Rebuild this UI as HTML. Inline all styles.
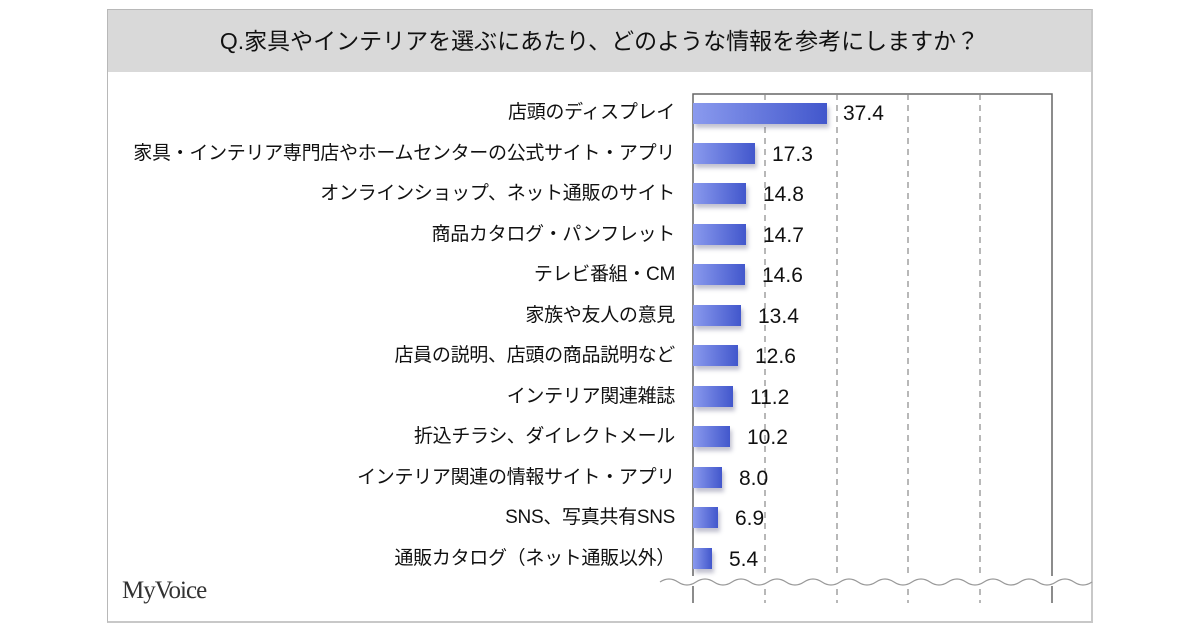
<!DOCTYPE html>
<html><head><meta charset="utf-8"><style>
body{margin:0;width:1200px;height:630px;background:#fff;position:relative;overflow:hidden;font-family:"Liberation Sans","Noto Sans CJK JP",sans-serif;}
.box{position:absolute;left:107px;top:9px;width:983px;height:611px;border:1px solid #b8b8b8;border-right:2px solid #c8c8c8;border-bottom:2px solid #c8c8c8;}
.title{position:absolute;left:108px;top:10px;width:983px;height:62px;background:#d9d9d9;font-size:23px;line-height:62px;text-align:center;color:#111;}
.lab{position:absolute;right:525px;font-size:19px;color:#111;white-space:nowrap;line-height:24px;letter-spacing:-0.3px;}
.val{position:absolute;font-size:21px;color:#111;line-height:24px;}
.bar{position:absolute;left:693px;height:21px;background:linear-gradient(90deg,#8a9aee,#4257cc);box-shadow:2px 4px 4px rgba(80,80,120,.35);}
</style></head><body>
<div class="box"></div>
<div class="title">Q.家具やインテリアを選ぶにあたり、どのような情報を参考にしますか？</div>
<svg style="position:absolute;left:0;top:0" width="1200" height="630">
<path d="M693 603 V94 H1052 V603" fill="none" stroke="#666" stroke-width="1.5"/>
<g stroke="#888" stroke-dasharray="6,5" stroke-width="1.2">
<line x1="765" y1="94" x2="765" y2="603"/><line x1="837" y1="94" x2="837" y2="603"/>
<line x1="908" y1="94" x2="908" y2="603"/><line x1="980" y1="94" x2="980" y2="603"/></g>
<rect x="660" y="576" width="430" height="10" fill="#fff"/>
<path d="M660 582 q9 -6 18 0 t18 0 t18 0 t18 0 t18 0 t18 0 t18 0 t18 0 t18 0 t18 0 t18 0 t18 0 t18 0 t18 0 t18 0 t18 0 t18 0 t18 0 t18 0 t18 0 t18 0 t18 0 t18 0 t18 0" fill="none" stroke="#999" stroke-width="1.2"/>
</svg>
<div style="position:absolute;left:122px;top:577px;font-family:'Liberation Serif',serif;font-size:25px;color:#333;letter-spacing:-1px">MyVoice</div>
<div class="lab" style="top:101px">店頭のディスプレイ</div><div class="bar" style="top:103px;width:134px"></div><div class="val" style="left:843px;top:102px">37.4</div>
<div class="lab" style="top:142px">家具・インテリア専門店やホームセンターの公式サイト・アプリ</div><div class="bar" style="top:143px;width:62px"></div><div class="val" style="left:772px;top:143px">17.3</div>
<div class="lab" style="top:182px">オンラインショップ、ネット通販のサイト</div><div class="bar" style="top:183px;width:53px"></div><div class="val" style="left:763px;top:183px">14.8</div>
<div class="lab" style="top:223px">商品カタログ・パンフレット</div><div class="bar" style="top:224px;width:53px"></div><div class="val" style="left:763px;top:224px">14.7</div>
<div class="lab" style="top:263px">テレビ番組・CM</div><div class="bar" style="top:264px;width:52px"></div><div class="val" style="left:762px;top:264px">14.6</div>
<div class="lab" style="top:304px">家族や友人の意見</div><div class="bar" style="top:305px;width:48px"></div><div class="val" style="left:758px;top:305px">13.4</div>
<div class="lab" style="top:344px">店員の説明、店頭の商品説明など</div><div class="bar" style="top:345px;width:45px"></div><div class="val" style="left:755px;top:345px">12.6</div>
<div class="lab" style="top:385px">インテリア関連雑誌</div><div class="bar" style="top:386px;width:40px"></div><div class="val" style="left:750px;top:386px">11.2</div>
<div class="lab" style="top:425px">折込チラシ、ダイレクトメール</div><div class="bar" style="top:426px;width:37px"></div><div class="val" style="left:747px;top:426px">10.2</div>
<div class="lab" style="top:466px">インテリア関連の情報サイト・アプリ</div><div class="bar" style="top:467px;width:29px"></div><div class="val" style="left:739px;top:467px">8.0</div>
<div class="lab" style="top:506px">SNS、写真共有SNS</div><div class="bar" style="top:507px;width:25px"></div><div class="val" style="left:735px;top:507px">6.9</div>
<div class="lab" style="top:547px">通販カタログ（ネット通販以外）</div><div class="bar" style="top:548px;width:19px"></div><div class="val" style="left:729px;top:548px">5.4</div>
</body></html>
